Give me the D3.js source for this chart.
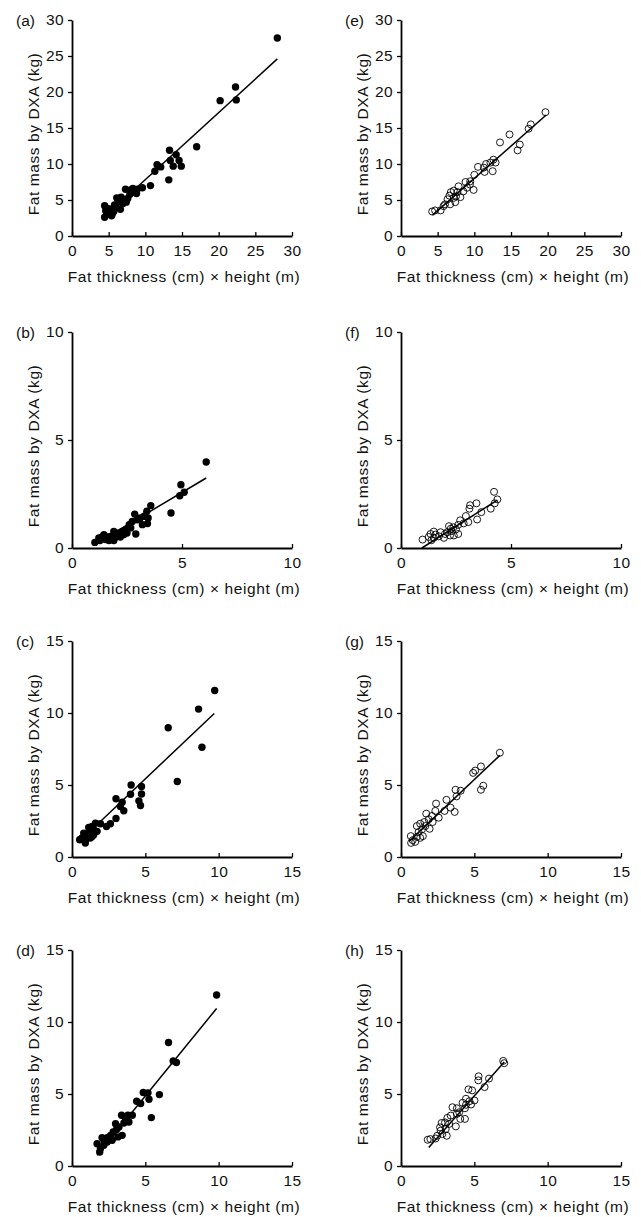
<!DOCTYPE html>
<html>
<head>
<meta charset="utf-8">
<script src="https://cdn.jsdelivr.net/npm/d3@7"></script>
<style>
  body { margin: 0; background: #fff; }
  text { font-family: "Liberation Sans", Arial, sans-serif; fill: #111; }
</style>
</head>
<body>
<svg id="chart" width="641" height="1217"></svg>
<script>
// panel (a) boys, total fat
const aX = [28.0,22.3,22.4,20.2,17.0,13.3,14.2,14.6,13.4,13.8,14.9,11.6,12.1,11.3,13.2,10.7,9.6,8.9,8.8,7.3,8.0,7.9,7.4,6.7,6.1,6.5,6.95,6.6,6.0,5.6,5.1,4.45,4.45,4.8,5.4,5.7,6.3,8.3,7.2,4.6,5.0,5.5,5.8,7.6,8.5];
const aY = [27.5,20.7,18.9,18.8,12.4,11.9,11.3,10.5,10.5,9.7,9.7,9.9,9.6,9.0,7.8,7.0,6.7,6.5,5.9,6.5,6.4,5.8,4.7,5.4,5.3,4.8,4.5,3.7,4.1,3.7,3.4,4.2,2.6,3.1,2.8,3.4,4.75,6.6,5.0,3.5,3.8,3.1,4.3,5.2,6.1];
const aLine = [[4.5, 2.7], [28.0, 24.6]];

// panel (e)
const eX = [19.7,17.7,17.4,14.8,13.5,16.2,15.9,12.6,12.9,12.2,11.6,11.3,10.5,11.4,12.5,10.0,9.45,8.8,9.4,9.9,7.85,7.2,6.8,6.6,7.7,8.5,8.1,7.2,7.4,6.7,6.0,5.8,5.4,4.65,4.25,6.35,9.0,7.5];
const eY = [17.2,15.5,14.9,14.1,13.0,12.7,11.9,10.6,10.2,10.2,10.0,9.5,9.6,8.9,9.0,8.5,7.6,7.5,7.15,6.4,6.9,6.3,6.1,5.6,6.1,6.2,5.4,5.3,4.7,4.4,4.4,4.15,3.55,3.55,3.4,5.1,6.7,5.5];
const eLine = [[4.3, 2.9], [19.8, 16.8]];

// panel (b)
const bX = [6.1,4.95,5.1,4.9,4.5,3.58,3.4,3.46,3.43,3.2,3.1,2.85,2.74,2.9,2.67,2.44,2.29,2.36,2.13,1.9,1.98,1.9,1.75,1.6,1.45,1.37,1.22,1.04,1.27,1.52,2.2,2.5,2.97,2.6,2.05,1.68,3.28];
const bY = [3.98,2.93,2.58,2.42,1.62,1.96,1.70,1.39,1.13,1.08,1.39,1.57,1.23,0.65,0.93,0.85,0.77,0.62,0.62,0.77,0.51,0.35,0.54,0.51,0.62,0.51,0.46,0.26,0.35,0.39,0.51,0.69,1.31,1.08,0.69,0.35,1.47];
const bLine = [[1.0, 0.15], [6.1, 3.24]];

// panel (f)
const fX = [4.23,4.38,4.26,4.08,3.43,3.14,3.11,3.65,3.46,2.95,3.06,2.69,2.85,2.6,2.38,2.26,2.1,2.3,2.6,2.4,2.23,2.0,1.8,1.72,1.49,1.34,1.49,1.26,1.38,0.98,1.57,1.95,2.5,2.18];
const fY = [2.6,2.25,2.07,1.82,2.07,1.98,1.82,1.66,1.32,1.48,1.2,1.28,1.14,1.07,0.96,0.89,0.73,0.78,0.65,0.58,0.58,0.65,0.73,0.54,0.76,0.65,0.47,0.51,0.36,0.39,0.62,0.47,0.86,1.01];
const fLine = [[0.95, 0.0], [4.38, 2.22]];

// panel (c)
const cX = [9.73,8.63,6.56,8.86,7.18,4.03,4.74,4.74,3.99,4.56,4.67,3.0,3.42,3.3,3.53,3.0,2.62,2.35,1.94,1.6,1.37,1.14,1.48,1.25,1.48,1.14,0.8,0.52,0.91,1.25,1.03,0.68,1.37,1.71,0.91];
const cY = [11.56,10.27,8.98,7.62,5.24,5.0,4.9,4.38,4.36,3.9,3.58,4.04,3.81,3.51,3.21,2.68,2.31,2.12,2.31,2.35,2.12,2.05,1.89,1.78,1.55,1.66,1.66,1.2,0.97,1.32,1.38,1.32,1.43,1.78,1.2];
const cLine = [[0.5, 1.08], [9.7, 9.97]];

// panel (g)
const gX = [6.74,5.45,5.06,4.92,5.61,5.45,3.72,4.07,3.79,3.1,3.38,3.66,2.97,2.39,2.34,2.11,1.72,1.89,2.16,1.95,1.59,1.31,1.08,1.43,1.2,1.49,1.08,1.31,0.67,0.8,0.69,0.97,1.66,2.57];
const gY = [7.24,6.29,6.0,5.84,4.95,4.67,4.67,4.6,4.21,3.97,3.43,3.13,3.2,3.71,3.2,2.85,3.01,2.62,2.43,1.96,2.43,2.31,2.15,1.92,1.73,1.45,1.4,1.33,1.45,1.17,0.98,1.05,2.15,2.73];
const gLine = [[0.57, 1.1], [6.74, 7.06]];

// panel (d)
const dX = [9.86,6.58,6.9,7.12,5.96,4.86,5.18,5.25,5.41,4.41,4.68,4.11,3.81,3.38,3.88,3.54,2.97,3.2,3.42,3.13,2.81,2.63,2.74,2.4,2.17,2.05,1.71,2.17,1.94,1.89,2.4,3.04,3.65];
const dY = [11.87,8.58,7.3,7.19,4.96,5.1,5.08,4.64,3.36,4.5,4.34,3.52,3.52,3.52,3.06,2.99,2.94,2.71,2.13,2.02,2.36,2.13,1.79,1.97,1.83,1.97,1.55,1.44,1.21,0.97,1.67,2.53,3.29];
const dLine = [[1.71, 0.74], [9.86, 10.94]];

// panel (h)
const hX = [6.97,7.04,5.29,5.27,6.0,5.7,4.6,4.85,4.43,4.67,5.01,4.78,4.43,4.2,4.36,3.51,3.81,3.81,4.04,4.36,3.74,3.16,3.28,3.0,2.77,2.66,3.05,3.12,2.82,2.47,2.36,2.0,1.82,3.39,3.97,2.7];
const hY = [7.3,7.14,6.23,5.95,6.07,5.48,5.32,5.25,4.67,4.5,4.55,4.27,4.25,4.39,4.01,4.08,4.01,3.62,3.27,3.27,2.75,3.34,2.92,3.03,2.99,2.68,2.57,2.1,2.22,2.1,1.91,1.87,1.82,3.5,3.73,2.45];
const hLine = [[1.89, 1.28], [7.04, 7.23]];

const ticks30 = [0, 5, 10, 15, 20, 25, 30];
const ticks10 = [0, 5, 10];
const ticks15 = [0, 5, 10, 15];

const xTitle = "Fat thickness (cm) \u00d7 height (m)";
const yTitle = "Fat mass by DXA (kg)";

const panels = [
  {label: "(a)", xs: aX, ys: aY, line: aLine, max: 30, ticks: ticks30, filled: true,  col: 0, row: 0},
  {label: "(e)", xs: eX, ys: eY, line: eLine, max: 30, ticks: ticks30, filled: false, col: 1, row: 0},
  {label: "(b)", xs: bX, ys: bY, line: bLine, max: 10, ticks: ticks10, filled: true,  col: 0, row: 1},
  {label: "(f)", xs: fX, ys: fY, line: fLine, max: 10, ticks: ticks10, filled: false, col: 1, row: 1},
  {label: "(c)", xs: cX, ys: cY, line: cLine, max: 15, ticks: ticks15, filled: true,  col: 0, row: 2},
  {label: "(g)", xs: gX, ys: gY, line: gLine, max: 15, ticks: ticks15, filled: false, col: 1, row: 2},
  {label: "(d)", xs: dX, ys: dY, line: dLine, max: 15, ticks: ticks15, filled: true,  col: 0, row: 3},
  {label: "(h)", xs: hX, ys: hY, line: hLine, max: 15, ticks: ticks15, filled: false, col: 1, row: 3}
];

const colLeft = [72, 401];
const plotW = 220;
const rowBottom = [236, 548, 857, 1166];
const plotH = 216;

const svg = d3.select("#chart");

panels.forEach(p => {
  const x0 = colLeft[p.col];
  const y0 = rowBottom[p.row] - plotH;
  const g = svg.append("g").attr("transform", `translate(${x0},${y0})`);

  const x = d3.scaleLinear().domain([0, p.max]).range([0, plotW]);
  const y = d3.scaleLinear().domain([0, p.max]).range([plotH, 0]);

  const xAxis = g.append("g")
    .attr("transform", `translate(0,${plotH})`)
    .call(d3.axisBottom(x).tickValues(p.ticks).tickSize(-4).tickSizeOuter(0).tickPadding(9));
  const yAxis = g.append("g")
    .call(d3.axisLeft(y).tickValues(p.ticks).tickSize(4).tickSizeOuter(0).tickPadding(4));

  [xAxis, yAxis].forEach(ax => {
    ax.select(".domain").attr("stroke", "#000").attr("stroke-width", 1.8);
    ax.selectAll(".tick line").attr("stroke", "#000").attr("stroke-width", 1.3);
    ax.selectAll(".tick text")
      .attr("font-family", "Liberation Sans, Arial, sans-serif")
      .attr("font-size", 15.5)
      .attr("letter-spacing", 0.4)
      .attr("fill", "#111");
  });

  // regression line
  g.append("path")
    .datum(p.line)
    .attr("fill", "none")
    .attr("stroke", "#000")
    .attr("stroke-width", 1.5)
    .attr("d", d3.line().x(d => x(d[0])).y(d => y(d[1])));

  g.selectAll("circle.pt")
    .data(d3.zip(p.xs, p.ys))
    .enter().append("circle")
    .attr("class", "pt")
    .attr("cx", d => x(d[0]))
    .attr("cy", d => y(d[1]))
    .attr("r", p.filled ? 3.7 : 3.5)
    .attr("fill", p.filled ? "#000" : "none")
    .attr("stroke", "#000")
    .attr("stroke-width", p.filled ? 0 : 0.9);

  g.append("text")
    .attr("x", plotW / 2 + 2)
    .attr("y", plotH + 46)
    .attr("text-anchor", "middle")
    .attr("font-size", 15.5)
    .attr("letter-spacing", 0.6)
    .text(xTitle);

  g.append("text")
    .attr("transform", `translate(-33,${plotH / 2 + 6}) rotate(-90)`)
    .attr("text-anchor", "middle")
    .attr("font-size", 15.5)
    .attr("letter-spacing", 0.6)
    .text(yTitle);

  g.append("text")
    .attr("x", -56)
    .attr("y", 6)
    .attr("font-size", 15.5)
    .text(p.label);
});
</script>
</body>
</html>
